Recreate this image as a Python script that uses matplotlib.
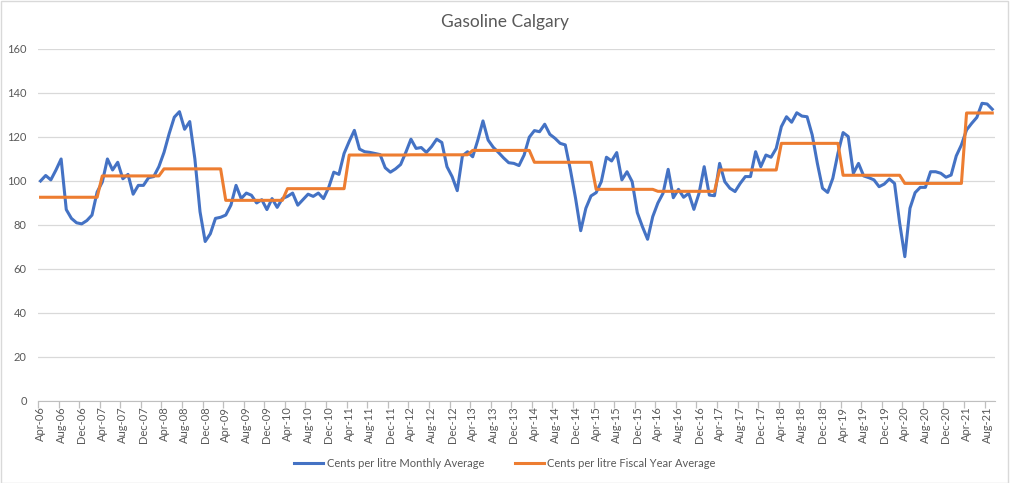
import matplotlib
matplotlib.use("Agg")
import matplotlib.pyplot as plt
import pandas as pd
from matplotlib.patches import Rectangle

# monthly average pump price, Apr-06 .. Sep-21 (cents per litre)
monthly_avg = [
    100, 102.5, 100.5, 105, 110, 87, 83, 81, 80.5, 82, 84.5, 95,
    99.5, 110, 105, 108.5, 101, 103, 94, 98, 98, 101.5, 102, 106.5,
    113, 121.5, 129, 131.5, 123.5, 127, 110, 86, 72.5, 76, 83, 83.5,
    84.5, 89, 98, 92, 94.5, 93.5, 90, 91.5, 87, 92, 88, 92,
    93, 94.5, 89, 91.5, 94, 93, 94.5, 92, 97, 104, 103, 112.5,
    118, 123, 114.5, 113.3, 113, 112.5, 112, 106, 104, 105.5, 107.5, 113,
    119, 114.8, 115.2, 113, 115.6, 119, 117.5, 106.5, 102, 95.6, 111.4, 113.3,
    111, 118.6, 127.3, 118.6, 115.3, 113, 110.5, 108.3, 108, 107, 111.8, 119.9,
    122.9, 122.4, 125.8, 121.2, 119.4, 117.1, 116.4, 105, 92.1, 77.4, 87.6, 93.2,
    94.7, 99.7, 110.8, 109.1, 112.9, 100.5, 104.2, 99.7, 85.6, 79.2, 73.5, 83.8,
    90, 94.4, 105.3, 92.4, 96.2, 92.6, 94.4, 87.1, 94.4, 106.5, 93.6, 93.3,
    108, 99.7, 96.7, 95.2, 98.9, 102, 102, 113.3, 106.5, 111.8, 110.8, 114.8,
    124.7, 129.2, 126.7, 131, 129.5, 129.2, 120.9, 108, 96.7, 94.8, 101.2, 112.6,
    122, 120.2, 103.5, 108, 102.3, 101.5, 100.5, 97.4, 98.6, 100.9, 98.9, 80.8,
    65.6, 87.6, 94.7, 97.1, 97.1, 104.2, 104.2, 103.5, 101.7, 102.7, 111.4, 116.4,
    123.2, 126.2, 128.9, 135.3, 135, 132.6,
]

# fiscal year (Apr-Mar) averages, FY06 .. FY21
fiscal_avg = [92.6, 102.3, 105.5, 91.2, 96.5, 111.8, 111.9, 113.9,
              108.5, 96.2, 95.3, 105.0, 117.1, 102.6, 98.9, 130.9]

# month labels for the category axis
months = list(pd.date_range("2006-04-01", periods=len(monthly_avg), freq="MS").strftime("%b-%y"))

TEXT = "#595959"
GRID = "#D9D9D9"


# expand the fiscal year averages so there is one value per month
def fiscal_per_month(values, n):
    out = []
    for v in values:
        out += [v] * 12
    return out[:n]


def draw_chart():
    plt.rcParams["font.family"] = ["Lato", "DejaVu Sans"]

    fig = plt.figure(figsize=(10.1, 4.83), dpi=100)
    ax = fig.add_axes([0.0376, 0.1698, 0.9474, 0.7288])

    x = list(range(len(months)))
    fy = fiscal_per_month(fiscal_avg, len(months))

    ax.plot(x, monthly_avg, color="#4472C4", lw=2.2, solid_joinstyle="round",
            label="Cents per litre Monthly Average", zorder=3)
    ax.plot(x, fy, color="#ED7D31", lw=2.2, solid_joinstyle="round",
            label="Cents per litre Fiscal Year Average", zorder=4)

    # y axis: 0-160 with light gridlines
    ax.set_ylim(0, 160)
    ax.set_yticks(range(0, 161, 20))
    ax.grid(axis="y", color=GRID, lw=0.9)
    ax.set_axisbelow(True)
    ax.tick_params(axis="y", length=0, labelsize=8, labelcolor=TEXT, pad=8)

    # x axis: label every 4th month, tick marks between categories
    ax.set_xlim(-0.5, len(months) - 0.5)
    ax.set_xticks(x[::4])
    ax.set_xticklabels(months[::4], rotation=90)
    ax.set_xticks([i - 0.5 for i in x[::4]], minor=True)
    ax.tick_params(axis="x", which="major", length=0, labelsize=8, labelcolor=TEXT, pad=4)
    ax.tick_params(axis="x", which="minor", length=5, color="#BFBFBF", width=0.9)

    for side in ["top", "right", "left"]:
        ax.spines[side].set_visible(False)
    ax.spines["bottom"].set_color("#BFBFBF")

    fig.text(0.5, 0.955, "Gasoline Calgary", ha="center", va="center",
             fontsize=12.5, color=TEXT)

    fig.legend(loc="center", bbox_to_anchor=(0.5, 0.041), ncol=2, frameon=False,
               fontsize=8, labelcolor=TEXT, handlelength=2.6, handletextpad=0.3,
               columnspacing=2.8)

    # thin chart border like the spreadsheet chart area
    fig.patches.append(Rectangle((0.0005, 0.001), 0.998, 0.997, transform=fig.transFigure,
                                 fill=False, edgecolor=GRID, lw=1))

    fig.savefig("out.png", dpi=100)


def main():
    draw_chart()


main()
